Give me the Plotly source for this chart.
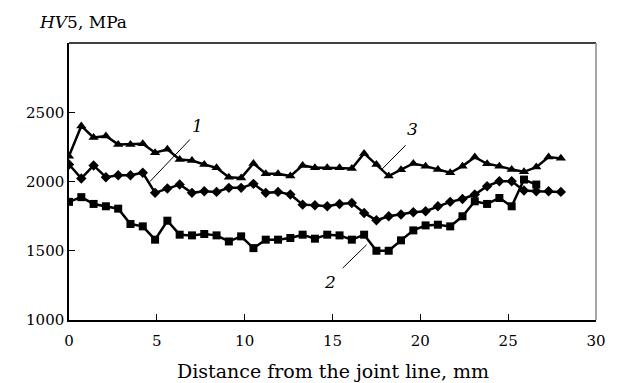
import plotly.graph_objects as go

x_all = [0.0, 0.7, 1.4, 2.1, 2.8, 3.5, 4.2, 4.9, 5.6, 6.3, 7.0, 7.7, 8.4, 9.1, 9.8,
         10.5, 11.2, 11.9, 12.6, 13.3, 14.0, 14.7, 15.4, 16.1, 16.8, 17.5, 18.2, 18.9,
         19.6, 20.3, 21.0, 21.7, 22.4, 23.1, 23.8, 24.5, 25.2, 25.9, 26.6, 27.3, 28.0]

curve1 = [2123, 2022, 2116, 2031, 2045, 2045, 2063, 1918, 1949, 1978, 1918, 1930, 1925,
          1954, 1954, 1983, 1918, 1925, 1906, 1833, 1828, 1821, 1838, 1845, 1773, 1720,
          1749, 1762, 1778, 1785, 1821, 1853, 1874, 1906, 1966, 2002, 2002, 1935, 1930,
          1930, 1925]

curve2 = [1853, 1887, 1838, 1821, 1804, 1693, 1676, 1580, 1717, 1616, 1611, 1621, 1611,
          1567, 1604, 1519, 1580, 1580, 1592, 1616, 1587, 1616, 1611, 1580, 1616, 1500,
          1500, 1575, 1647, 1683, 1688, 1676, 1749, 1857, 1838, 1881, 1821, 2014, 1978]

curve3 = [2183, 2401, 2317, 2328, 2268, 2268, 2273, 2208, 2232, 2159, 2152, 2123, 2099,
          2031, 2026, 2130, 2056, 2056, 2039, 2116, 2099, 2099, 2099, 2094, 2203, 2123,
          2039, 2085, 2130, 2111, 2087, 2063, 2111, 2176, 2128, 2111, 2087, 2070, 2104,
          2176, 2167]

x_ticks = [0, 5, 10, 15, 20, 25, 30]
y_ticks = [1000, 1500, 2000, 2500]

font_family = "DejaVu Serif"

fig = go.Figure()
fig.add_trace(go.Scatter(x=x_all[:len(curve3)], y=curve3, mode="lines+markers",
                         line=dict(color="black", width=2.5),
                         marker=dict(symbol="triangle-up", size=9, color="black")))
fig.add_trace(go.Scatter(x=x_all[:len(curve1)], y=curve1, mode="lines+markers",
                         line=dict(color="black", width=2.5),
                         marker=dict(symbol="diamond", size=8, color="black")))
fig.add_trace(go.Scatter(x=x_all[:len(curve2)], y=curve2, mode="lines+markers",
                         line=dict(color="black", width=2.5),
                         marker=dict(symbol="square", size=8, color="black")))

# leader lines for curve labels
leaders = [((6.89, 2304), (4.61, 2000)),
           ((19.16, 2261), (17.8, 2087)),
           ((15.58, 1375), (16.94, 1543))]
for (x0, y0), (x1, y1) in leaders:
    fig.add_shape(type="line", x0=x0, y0=y0, x1=x1, y1=y1, xref="x", yref="y",
                  line=dict(color="black", width=1))

labels = [("1", 7.29, 2399), ("3", 19.58, 2377), ("2", 14.85, 1275)]
for t, lx, ly in labels:
    fig.add_annotation(x=lx, y=ly, text="<i>%s</i>" % t, showarrow=False,
                       font=dict(family=font_family, size=17, color="black"))

# frame: top black, right gray
fig.add_shape(type="line", xref="paper", yref="paper", x0=0, x1=1, y0=1, y1=1,
              line=dict(color="black", width=1.5))
fig.add_shape(type="line", xref="paper", yref="paper", x0=1, x1=1, y0=0, y1=1,
              line=dict(color="#888888", width=1.5))

fig.add_annotation(xref="paper", yref="paper", x=-0.061, y=1.0, yshift=21,
                   xanchor="left", yanchor="middle",
                   text="<i>HV</i>5, MPa", showarrow=False,
                   font=dict(family=font_family, size=17, color="black"))

fig.add_annotation(xref="paper", yref="paper", x=0.5, y=0.0, yshift=-51,
                   xanchor="center", yanchor="middle",
                   text="Distance from the joint line, mm", showarrow=False,
                   font=dict(family=font_family, size=19, color="black"))

tick_font = dict(family=font_family, size=15, color="black")

fig.update_layout(
    width=618, height=383,
    margin=dict(l=69, r=22, t=43, b=63),
    plot_bgcolor="white", paper_bgcolor="white",
    showlegend=False,
    font=dict(family=font_family, size=15, color="black"),
    xaxis=dict(range=[0, 30], tickvals=x_ticks, ticks="inside", ticklen=6,
               tickcolor="black", tickwidth=1, showline=True, linecolor="black",
               linewidth=1.5, showgrid=False, zeroline=False,
               tickfont=tick_font, ticklabelstandoff=6, automargin=False),
    yaxis=dict(range=[1000, 3000], tickvals=y_ticks, ticks="inside", ticklen=6,
               tickcolor="black", tickwidth=1, showline=True, linecolor="black",
               linewidth=1.5, showgrid=False, zeroline=False,
               tickfont=tick_font, automargin=False),
)

fig.write_html("out.html", post_script="document.body.style.margin='0';",
               config={"displayModeBar": False})
